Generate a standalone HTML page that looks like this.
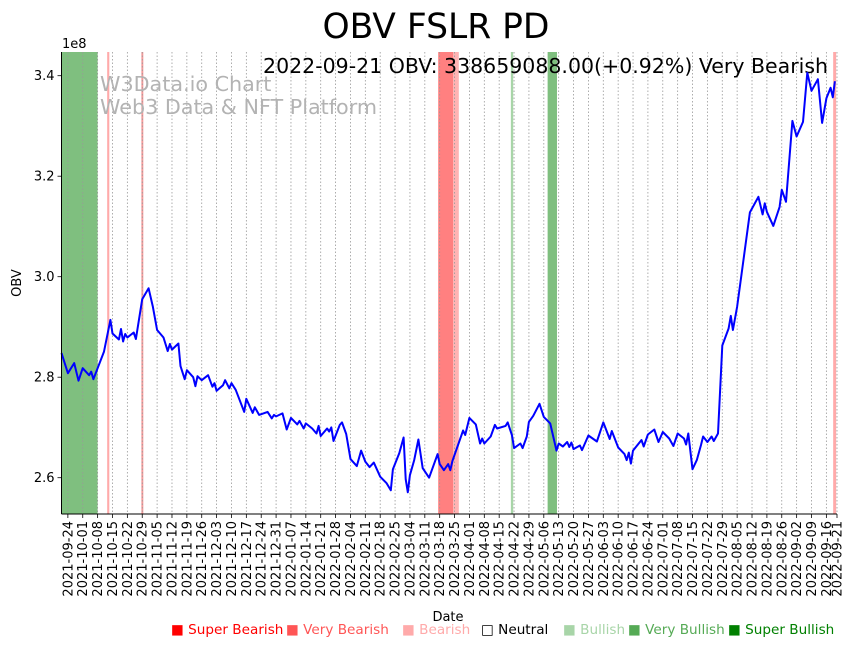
<!DOCTYPE html>
<html><head><meta charset="utf-8">
<style>
html,body{margin:0;padding:0;background:#fff;}
svg{display:block;font-family:"DejaVu Sans","Liberation Sans",sans-serif;}
</style></head>
<body>
<svg id="chart" width="855" height="646" viewBox="0 0 855 646">
<text x="436" y="38" text-anchor="middle" font-size="34.5">OBV FSLR PD</text>
<g id="bands"></g>
<g id="grid"></g>
<text x="100" y="91" font-size="20.7" fill="#b3b3b3">W3Data.io Chart</text>
<text x="100" y="114" font-size="20.7" fill="#b3b3b3">Web3 Data &amp; NFT Platform</text>
<text x="828" y="73" text-anchor="end" font-size="20.5">2022-09-21 OBV: 338659088.00(+0.92%) Very Bearish</text>
<path id="line" fill="none" stroke="#0000ff" stroke-width="2" stroke-linejoin="round"/>
<g id="axes"></g>
<text x="62" y="48" font-size="13">1e8</text>
<text transform="translate(21,283) rotate(-90)" text-anchor="middle" font-size="13">OBV</text>
<text x="448" y="621" text-anchor="middle" font-size="13">Date</text>
<g font-size="13.6">
<text x="171" y="634" fill="#ff0000">■ Super Bearish</text>
<text x="286" y="634" fill="#ff5555">■ Very Bearish</text>
<text x="402" y="634" fill="#ffaaaa">■ Bearish</text>
<text x="481" y="634" fill="#000">□ Neutral</text>
<text x="563" y="634" fill="#a8d5a8">■ Bullish</text>
<text x="628" y="634" fill="#55aa55">■ Very Bullish</text>
<text x="728" y="634" fill="#008000">■ Super Bullish</text>
</g>
</svg>
<script>
// days since 2021-09-21
const days = [0,3,6,8,10,13,14,15,20,23,24,27,28,29,30,31,34,35,38,41,43,45,48,50,51,52,55,56,58,59,62,63,64,66,69,71,72,73,76,77,79,80,82,86,87,90,91,93,97,99,100,101,104,106,108,111,112,114,115,118,120,121,122,125,126,127,128,131,132,134,136,139,141,143,145,147,150,153,155,156,159,161,162,163,164,166,168,170,173,177,178,180,182,183,184,189,190,192,195,197,198,199,202,204,205,209,210,212,213,216,217,219,220,222,225,227,230,233,234,236,238,239,240,241,244,245,248,252,255,258,259,262,265,266,267,268,269,273,274,276,279,281,283,286,288,290,293,294,295,297,299,301,302,304,306,307,309,311,314,315,316,318,320,324,328,330,331,332,335,338,339,341,344,346,349,351,353,356,358,360,362,363,364];
// OBV values (x1e8)
const obv = [2.848,2.808,2.828,2.793,2.818,2.804,2.811,2.796,2.851,2.914,2.887,2.875,2.896,2.871,2.886,2.879,2.889,2.876,2.955,2.977,2.940,2.894,2.879,2.852,2.866,2.855,2.867,2.822,2.796,2.814,2.800,2.782,2.802,2.794,2.804,2.781,2.788,2.773,2.784,2.794,2.778,2.788,2.775,2.731,2.757,2.729,2.740,2.725,2.731,2.718,2.725,2.722,2.728,2.696,2.719,2.706,2.713,2.698,2.708,2.698,2.688,2.703,2.683,2.698,2.692,2.700,2.673,2.705,2.710,2.687,2.637,2.623,2.654,2.632,2.621,2.630,2.602,2.589,2.575,2.617,2.649,2.680,2.597,2.571,2.605,2.635,2.676,2.619,2.600,2.647,2.627,2.615,2.627,2.615,2.633,2.694,2.685,2.719,2.706,2.668,2.678,2.668,2.682,2.705,2.698,2.703,2.710,2.685,2.659,2.668,2.659,2.682,2.711,2.723,2.747,2.721,2.708,2.654,2.668,2.662,2.671,2.661,2.670,2.657,2.664,2.655,2.684,2.672,2.710,2.677,2.693,2.660,2.647,2.635,2.650,2.628,2.654,2.675,2.662,2.686,2.696,2.671,2.691,2.678,2.663,2.688,2.678,2.666,2.688,2.617,2.635,2.665,2.682,2.671,2.682,2.673,2.688,2.863,2.897,2.922,2.894,2.940,3.003,3.128,3.159,3.124,3.146,3.129,3.101,3.139,3.173,3.149,3.310,3.279,3.308,3.406,3.370,3.393,3.306,3.355,3.376,3.357,3.389];
const bandStart = [0,21.5,37.6,177.3,184.4,211.5,228.8,363.2];
const bandEnd   = [17.0,22.5,38.5,184.4,187.0,212.6,233.2,364.6];
const bandColor = ["#7fbf7f","#ffaaaa","#f59a9a","#ff8080","#ffb3b3","#a8d5a8","#7fbf7f","#ffaaaa"];
const yTicks = [2.6,2.8,3.0,3.2,3.4];

const NS="http://www.w3.org/2000/svg";
const L=61.5,R=837,T=52,B=514;
const x=d=>L+(d/365)*(R-L);
const y=v=>477.7-(v-2.6)*502.5;
function mk(tag,attrs,parent){const e=document.createElementNS(NS,tag);for(const k in attrs)e.setAttribute(k,attrs[k]);parent.appendChild(e);return e;}
const bands=document.getElementById('bands'),grid=document.getElementById('grid'),axes=document.getElementById('axes');
bandStart.forEach((s,i)=>{
  const r=mk('rect',{x:x(s),y:T,width:x(bandEnd[i])-x(s),height:B-T,fill:bandColor[i]},bands);
  
  
});
const start=Date.UTC(2021,8,21);
const fmt=d=>{const t=new Date(start+d*864e5);return t.toISOString().slice(0,10);};
const tickDays=[];for(let d=3;d<=362;d+=7)tickDays.push(d);tickDays.push(365);
tickDays.forEach(d=>{
  const xx=x(d);
  const g=mk('line',{x1:xx,x2:xx,y1:T,y2:B,stroke:'#999','stroke-width':0.8,'stroke-dasharray':'1.5,2'},grid);
  
  
  mk('line',{x1:xx,x2:xx,y1:B,y2:B+4,stroke:'#000','stroke-width':0.8},axes);
  const t=mk('text',{transform:`translate(${xx+4.5},${B+7}) rotate(-90)`,'text-anchor':'end','font-size':13},axes);
  t.textContent=fmt(d);
  
  
});
yTicks.forEach(v=>{
  const yy=y(v);
  mk('line',{x1:L-4,x2:L,y1:yy,y2:yy,stroke:'#000','stroke-width':0.8},axes);
  const t=mk('text',{x:L-7,y:yy+4.5,'text-anchor':'end','font-size':13},axes);
  t.textContent=v.toFixed(1);
  
  
});
mk('line',{x1:L,x2:L,y1:T,y2:B,stroke:'#000','stroke-width':1},axes);
mk('line',{x1:L,x2:R,y1:B,y2:B,stroke:'#000','stroke-width':1},axes);
document.getElementById('line').setAttribute('d',days.map((d,i)=>(i?'L':'M')+x(d).toFixed(1)+','+y(obv[i]).toFixed(1)).join(''));
</script>
</body></html>
